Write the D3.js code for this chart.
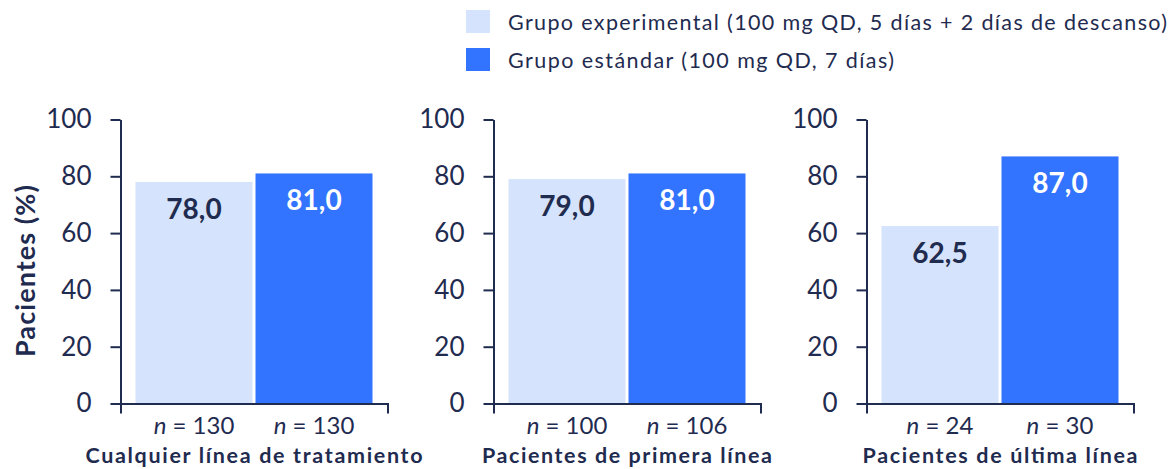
<!DOCTYPE html>
<html>
<head>
<meta charset="utf-8">
<script src="https://cdn.jsdelivr.net/npm/d3@7"></script>
<style>
  html, body { margin: 0; padding: 0; background: #ffffff; }
  svg { display: block; font-family: Lato, "Open Sans", sans-serif; }
</style>
</head>
<body>
<svg id="chart" width="1172" height="469"></svg>
<script>
// Panel titles (one per subgroup)
const groups = ["Cualquier línea de tratamiento", "Pacientes de primera línea", "Pacientes de última línea"];
// Series names shown in the legend
const seriesNames = ["Grupo experimental (100 mg QD, 5 días + 2 días de descanso)", "Grupo estándar (100 mg QD, 7 días)"];
// Percent of patients per subgroup
const experimental = [78.0, 79.0, 62.5];
const standard = [81.0, 81.0, 87.0];
// Sample sizes per subgroup
const nExperimental = [130, 100, 24];
const nStandard = [130, 106, 30];
// Y axis ticks
const yTicks = [0, 20, 40, 60, 80, 100];

// Layout: set widths for the longer text runs (spacing stretched to fit)
const titleWidths = [337, 290, 275];
const legendWidths = [659, 386];

const ink = "#1f2b4f";
const colors = ["#d5e3fc", "#3273ff"];
const labelColors = [ink, "#ffffff"];
const fmt = v => v.toFixed(1).replace(".", ",");

const svg = d3.select("#chart");

const y = d3.scaleLinear().domain([0, 100]).range([403.5, 119.5]);

// Panels laid out horizontally
const panelX = d3.scalePoint().domain(groups).range([120.5, 866.5]);
const panelW = 267;

groups.forEach((g, i) => {
  const x0 = panelX(g);
  const pg = svg.append("g");
  const keys = ["exp", "std"];
  const x = d3.scaleBand().domain(keys).range([x0, x0 + panelW])
    .paddingInner(0.025).paddingOuter(0.125);

  const vals = [experimental[i], standard[i]];
  const ns = [nExperimental[i], nStandard[i]];

  // bars
  pg.selectAll("rect").data(keys).join("rect")
    .attr("x", k => x(k))
    .attr("width", x.bandwidth())
    .attr("y", (k, j) => y(vals[j]))
    .attr("height", (k, j) => y(0) - y(vals[j]))
    .attr("fill", (k, j) => colors[j]);

  // value labels inside bars
  pg.selectAll("text.val").data(keys).join("text")
    .attr("class", "val")
    .attr("x", k => x(k) + x.bandwidth() / 2)
    .attr("y", (k, j) => y(vals[j]) + 37)
    .attr("text-anchor", "middle")
    .attr("font-size", 28)
    .attr("font-weight", 700)
    .attr("fill", (k, j) => labelColors[j])
    .text((k, j) => fmt(vals[j]));

  // y axis
  const ya = pg.append("g")
    .attr("transform", `translate(${x0},0)`)
    .call(d3.axisLeft(y).tickValues(yTicks).tickSize(10).tickSizeOuter(0).tickPadding(19));
  ya.select(".domain").attr("stroke", ink).attr("stroke-width", 2);
  ya.selectAll(".tick line").attr("stroke", ink).attr("stroke-width", 2);
  ya.selectAll(".tick text")
    .attr("fill", ink).attr("font-size", 26).attr("font-family", "Lato, sans-serif");

  // x axis
  const xa = pg.append("g")
    .attr("transform", `translate(0,${y(0)})`)
    .call(d3.axisBottom(x).tickSizeInner(0).tickSizeOuter(10).tickPadding(0).tickFormat(""));
  xa.select(".domain").attr("stroke", ink).attr("stroke-width", 2);
  xa.selectAll(".tick text").each(function(k, j) {
    const t = d3.select(this)
      .attr("y", 30)
      .attr("dy", 0)
      .attr("fill", ink)
      .attr("font-size", 24)
      .attr("font-family", "Lato, sans-serif");
    t.append("tspan").attr("font-style", "italic").text("n");
    t.append("tspan").text(" = " + ns[j]);
  });

  // subgroup title
  pg.append("text")
    .attr("x", (x("exp") + x("std") + x.bandwidth()) / 2)
    .attr("y", 463)
    .attr("text-anchor", "middle")
    .attr("font-size", 21.5)
    .attr("font-weight", 700)
    .attr("fill", ink)
    .attr("textLength", titleWidths[i])
    .attr("lengthAdjust", "spacing")
    .text(g);
});

// y axis title
svg.append("text")
  .attr("transform", "translate(35,271) rotate(-90)")
  .attr("text-anchor", "middle")
  .attr("font-size", 27)
  .attr("font-weight", 700)
  .attr("fill", ink)
  .attr("textLength", 172)
  .attr("lengthAdjust", "spacing")
  .text("Pacientes (%)");

// legend
const legend = svg.append("g").attr("transform", "translate(466,10)");
const li = legend.selectAll("g").data(seriesNames).join("g")
  .attr("transform", (d, i) => `translate(0,${i * 38})`);
li.append("rect").attr("width", 24).attr("height", 23).attr("fill", (d, i) => colors[i]);
li.append("text")
  .attr("x", 42)
  .attr("y", 20)
  .attr("font-size", 21.5)
  .attr("fill", ink)
  .attr("textLength", (d, i) => legendWidths[i])
  .attr("lengthAdjust", "spacing")
  .text(d => d);
</script>
</body>
</html>
